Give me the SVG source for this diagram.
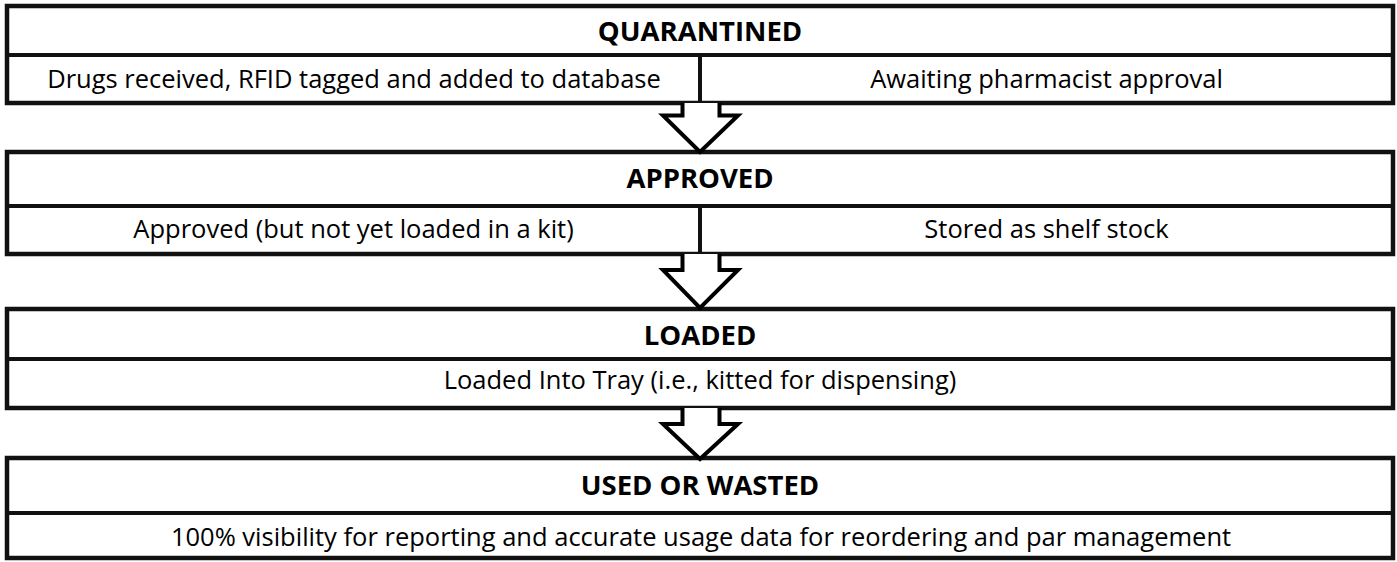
<svg xmlns="http://www.w3.org/2000/svg" width="1397" height="562" viewBox="0 0 1397 562">
<style>
.box{fill:#fff;stroke:#111;stroke-width:4.5}
.div{stroke:#111;stroke-width:4;fill:none}
.arr{fill:#fff;stroke:#000;stroke-width:4;stroke-linejoin:miter}
.t{font-family:"Open Sans","Liberation Sans",sans-serif;font-weight:bold;font-size:27.5px;fill:#000;text-anchor:middle}
.b{font-family:"Open Sans","Liberation Sans",sans-serif;font-size:25.5px;fill:#000;text-anchor:middle}
</style>
<rect width="1397" height="562" fill="#fff"/>
<g id="quarantined">
<rect class="box" x="7" y="6" width="1386" height="97"/>
<line class="div" x1="7" y1="55" x2="1393" y2="55"/>
<line class="div" x1="700" y1="55" x2="700" y2="103"/>
<text class="t" x="700" y="41">QUARANTINED</text>
<text class="b" x="354" y="88">Drugs received, RFID tagged and added to database</text>
<text class="b" x="1046.5" y="88">Awaiting pharmacist approval</text>
</g>
<g id="approved">
<rect class="box" x="7" y="152" width="1386" height="102"/>
<line class="div" x1="7" y1="206" x2="1393" y2="206"/>
<line class="div" x1="700" y1="206" x2="700" y2="254"/>
<text class="t" x="700" y="188">APPROVED</text>
<text class="b" x="353.5" y="238">Approved (but not yet loaded in a kit)</text>
<text class="b" x="1046.5" y="238">Stored as shelf stock</text>
</g>
<g id="loaded">
<rect class="box" x="7" y="309" width="1386" height="99"/>
<line class="div" x1="7" y1="359" x2="1393" y2="359"/>
<text class="t" x="700" y="345">LOADED</text>
<text class="b" x="700" y="389">Loaded Into Tray (i.e., kitted for dispensing)</text>
</g>
<g id="used-or-wasted">
<rect class="box" x="7" y="458" width="1386" height="100"/>
<line class="div" x1="7" y1="513" x2="1393" y2="513"/>
<text class="t" x="700" y="495">USED OR WASTED</text>
<text class="b" x="701" y="546">100% visibility for reporting and accurate usage data for reordering and par management</text>
</g>
<g id="connectors">
<path class="arr" d="M682.5,103 V115.5 H663 L700,152 L738,115.5 H719.5 V103"/>
<path class="arr" d="M682.5,254 V270 H663 L700,308 L738,270 H719.5 V254"/>
<path class="arr" d="M682.5,408 V424 H663 L700,459 L738,424 H719.5 V408"/>
</g>
</svg>
